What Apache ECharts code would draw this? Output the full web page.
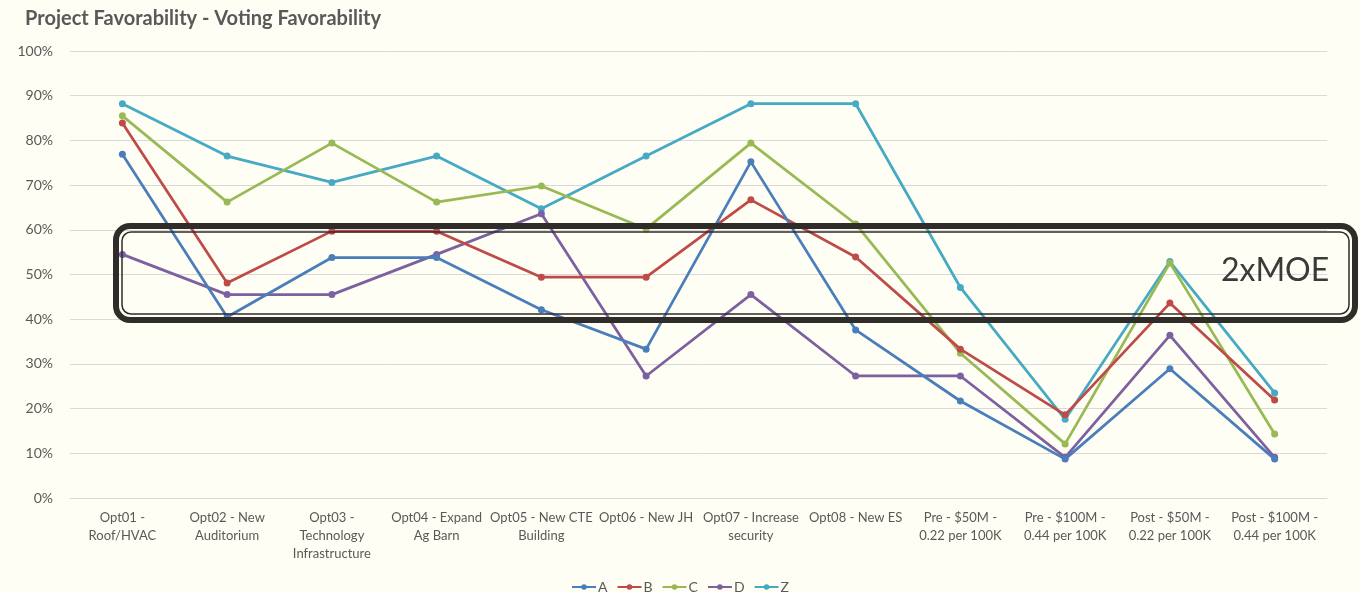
<!DOCTYPE html>
<html>
<head>
<meta charset="utf-8">
<script src="https://cdn.jsdelivr.net/npm/echarts@6/dist/echarts.min.js"></script>
<style>
  html, body { margin: 0; padding: 0; background: #fefef4; }
  #chart { width: 1360px; height: 593px; }
</style>
</head>
<body>
<div id="chart"></div>
<script>
// categories (x axis)
const categories = [
  'Opt01 -\nRoof/HVAC',
  'Opt02 - New\nAuditorium',
  'Opt03 -\nTechnology\nInfrastructure',
  'Opt04 - Expand\nAg Barn',
  'Opt05 - New CTE\nBuilding',
  'Opt06 - New JH',
  'Opt07 - Increase\nsecurity',
  'Opt08 - New ES',
  'Pre - $50M -\n0.22 per 100K',
  'Pre - $100M -\n0.44 per 100K',
  'Post - $50M -\n0.22 per 100K',
  'Post - $100M -\n0.44 per 100K',
];

// series values (%)
const seriesA = [76.9, 40.5, 53.8, 53.8, 42.1, 33.3, 75.2, 37.6, 21.7, 8.7, 28.9, 8.7];
const seriesB = [83.9, 48.1, 59.7, 59.7, 49.4, 49.4, 66.7, 53.9, 33.3, 18.6, 43.6, 21.9];
const seriesC = [85.5, 66.2, 79.4, 66.2, 69.8, 60.2, 79.4, 61.3, 32.4, 12.1, 52.6, 14.3];
const seriesD = [54.5, 45.5, 45.5, 54.5, 63.6, 27.3, 45.5, 27.3, 27.3, 9.1, 36.4, 9.1];
const seriesZ = [88.2, 76.5, 70.6, 76.5, 64.7, 76.5, 88.2, 88.2, 47.1, 17.6, 52.9, 23.5];

const seriesNames = ['A', 'B', 'C', 'D', 'Z'];
const seriesData = [seriesA, seriesB, seriesC, seriesD, seriesZ];
const colorList = ['#4a7ebb', '#be4b48', '#98b954', '#7d60a0', '#46aac5'];

const font = 'Lato, "Open Sans", sans-serif';
const chart = echarts.init(document.getElementById('chart'));

const option = {
  backgroundColor: '#fefef4',
  animation: false,
  title: {
    text: 'Project Favorability - Voting Favorability',
    left: 20,
    top: 4,
    textStyle: { color: '#595959', fontSize: 20, fontWeight: 'bold', fontFamily: font },
  },
  legend: {
    data: seriesNames,
    top: 575,
    left: 'center',
    itemWidth: 24,
    itemHeight: 7,
    itemGap: 9,
    textStyle: { color: '#595959', fontSize: 14, fontFamily: font, padding: [0, 0, 0, -3] },
  },
  grid: { // plot area
    left: 70,
    right: 33,
    top: 51,
    bottom: 95,
    containLabel: false,
  },
  xAxis: {
    type: 'category',
    data: categories,
    boundaryGap: true,
    axisTick: { show: false },
    axisLine: { show: true, lineStyle: { color: '#d9d9d9', width: 1 } },
    axisLabel: {
      interval: 0,
      color: '#595959',
      fontSize: 13,
      fontFamily: font,
      lineHeight: 18,
      margin: 11,
    },
  },
  yAxis: {
    type: 'value',
    min: 0,
    max: 100,
    interval: 10,
    axisLine: { show: false },
    axisTick: { show: false },
    axisLabel: {
      formatter: '{value}%',
      color: '#595959',
      fontSize: 14,
      fontFamily: font,
      margin: 17,
    },
    splitLine: { lineStyle: { color: '#d9d9d9', width: 1 } },
  },
  // 2xMOE annotation box
  graphic: [
    {
      type: 'rect',
      shape: { x: 116, y: 226, width: 1239, height: 94, r: 14 },
      style: { fill: 'none', stroke: '#302c2a', lineWidth: 6 },
      z: 100,
    },
    {
      type: 'rect',
      shape: { x: 122, y: 232, width: 1227, height: 82, r: 9 },
      style: { fill: 'none', stroke: '#302c2a', lineWidth: 1.5 },
      z: 100,
    },
    {
      type: 'text',
      left: 1221,
      top: 255,
      style: { text: '2xMOE', fill: '#3a3a3a', fontSize: 32, fontFamily: font },
      z: 100,
    },
  ],
  series: [],
};

seriesNames.forEach((name, index) => {
  option.series.push({
    name,
    type: 'line',
    data: seriesData[index],
    color: colorList[index],
    symbol: 'circle',
    symbolSize: 7,
    lineStyle: { width: 2.75 },
    z: 10 - index,
  });
});

chart.setOption(option);
</script>
</body>
</html>
